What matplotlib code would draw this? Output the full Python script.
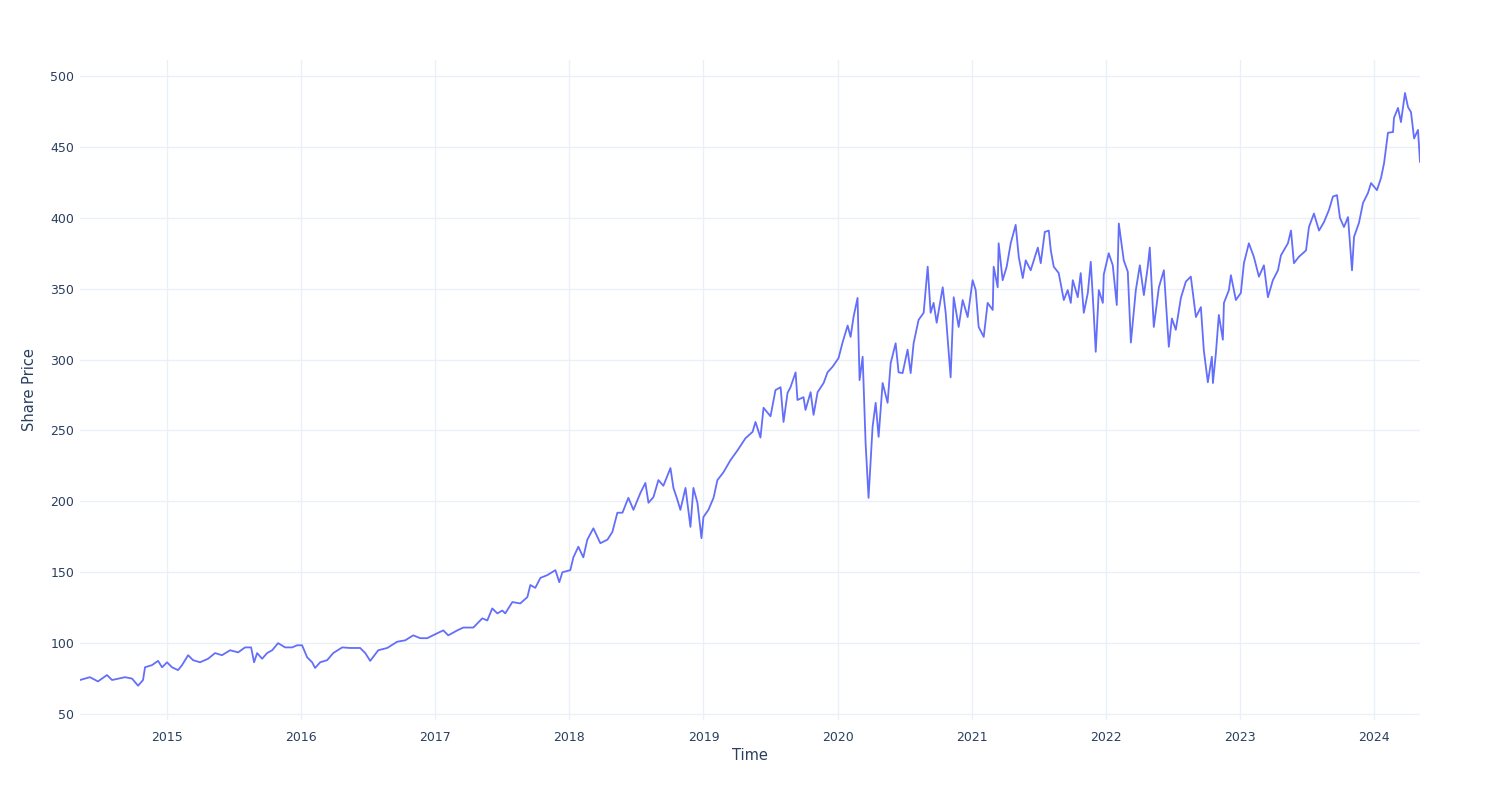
import matplotlib
matplotlib.use("Agg")
import matplotlib.pyplot as plt

# Time as decimal years
time_years = [
    2014.351, 2014.425, 2014.485, 2014.552, 2014.590, 2014.687, 2014.739, 2014.784,
    2014.821, 2014.836, 2014.888, 2014.933, 2014.963, 2015.000, 2015.037, 2015.082,
    2015.112, 2015.157, 2015.194, 2015.246, 2015.306, 2015.358, 2015.410, 2015.470,
    2015.530, 2015.582, 2015.627, 2015.649, 2015.672, 2015.709, 2015.746, 2015.784,
    2015.828, 2015.881, 2015.933, 2015.970, 2016.007, 2016.045, 2016.082, 2016.104,
    2016.142, 2016.194, 2016.239, 2016.306, 2016.366, 2016.440, 2016.478, 2016.515,
    2016.575, 2016.642, 2016.716, 2016.776, 2016.836, 2016.888, 2016.940, 2017.015,
    2017.060, 2017.097, 2017.164, 2017.209, 2017.284, 2017.351, 2017.388, 2017.425,
    2017.463, 2017.500, 2017.522, 2017.575, 2017.634, 2017.687, 2017.709, 2017.746,
    2017.784, 2017.836, 2017.896, 2017.925, 2017.948, 2018.007, 2018.030, 2018.067,
    2018.104, 2018.134, 2018.179, 2018.231, 2018.284, 2018.321, 2018.358, 2018.396,
    2018.440, 2018.478, 2018.530, 2018.567, 2018.590, 2018.627, 2018.664, 2018.701,
    2018.754, 2018.776, 2018.806, 2018.828, 2018.866, 2018.903, 2018.925, 2018.955,
    2018.985, 2019.000, 2019.037, 2019.075, 2019.104, 2019.149, 2019.201, 2019.254,
    2019.313, 2019.366, 2019.388, 2019.425, 2019.448, 2019.500, 2019.537, 2019.575,
    2019.597, 2019.627, 2019.649, 2019.687, 2019.701, 2019.746, 2019.761, 2019.799,
    2019.821, 2019.851, 2019.896, 2019.925, 2019.963, 2020.007, 2020.037, 2020.075,
    2020.097, 2020.119, 2020.149, 2020.164, 2020.187, 2020.209, 2020.231, 2020.261,
    2020.284, 2020.306, 2020.336, 2020.373, 2020.396, 2020.433, 2020.455, 2020.485,
    2020.522, 2020.545, 2020.567, 2020.604, 2020.642, 2020.672, 2020.694, 2020.716,
    2020.739, 2020.784, 2020.806, 2020.843, 2020.866, 2020.903, 2020.933, 2020.970,
    2021.007, 2021.030, 2021.052, 2021.090, 2021.119, 2021.157, 2021.164, 2021.194,
    2021.201, 2021.231, 2021.261, 2021.291, 2021.328, 2021.351, 2021.381, 2021.403,
    2021.440, 2021.493, 2021.515, 2021.545, 2021.575, 2021.590, 2021.612, 2021.649,
    2021.687, 2021.716, 2021.739, 2021.754, 2021.791, 2021.813, 2021.836, 2021.866,
    2021.888, 2021.910, 2021.925, 2021.948, 2021.978, 2021.985, 2022.022, 2022.052,
    2022.082, 2022.097, 2022.134, 2022.164, 2022.187, 2022.224, 2022.254, 2022.284,
    2022.313, 2022.328, 2022.358, 2022.396, 2022.433, 2022.470, 2022.493, 2022.522,
    2022.560, 2022.597, 2022.634, 2022.672, 2022.709, 2022.731, 2022.761, 2022.791,
    2022.799, 2022.821, 2022.843, 2022.873, 2022.881, 2022.918, 2022.933, 2022.970,
    2023.007, 2023.030, 2023.067, 2023.104, 2023.142, 2023.179, 2023.209, 2023.246,
    2023.284, 2023.306, 2023.358, 2023.381, 2023.403, 2023.440, 2023.493, 2023.515,
    2023.552, 2023.590, 2023.627, 2023.664, 2023.694, 2023.724, 2023.746, 2023.776,
    2023.806, 2023.836, 2023.851, 2023.888, 2023.918, 2023.955, 2023.978, 2024.022,
    2024.052, 2024.075, 2024.104, 2024.142, 2024.149, 2024.179, 2024.201, 2024.231,
    2024.254, 2024.276, 2024.299, 2024.328, 2024.343,
]

share_price = [
    74.0, 76.0, 73.0, 77.5, 74.0, 76.0, 75.0, 70.0,
    74.0, 83.0, 84.5, 87.5, 83.0, 86.5, 83.0, 81.0,
    84.5, 91.5, 88.0, 86.5, 89.0, 93.0, 91.5, 95.0,
    93.5, 97.0, 97.0, 86.5, 93.0, 89.0, 93.0, 95.0,
    100.0, 97.0, 97.0, 98.5, 98.5, 90.0, 86.5, 82.5,
    86.5, 88.0, 93.0, 97.0, 96.6, 96.6, 93.0, 87.5,
    95.0, 96.6, 101.0, 102.0, 105.5, 103.5, 103.5, 107.0,
    109.0, 105.5, 109.0, 111.0, 111.0, 117.5, 116.0, 124.5,
    121.0, 123.0, 121.0, 129.0, 128.0, 132.5, 141.0, 139.0,
    146.0, 148.0, 151.5, 143.0, 150.0, 151.5, 160.5, 168.0,
    160.5, 173.0, 181.0, 170.5, 173.0, 178.5, 192.0, 192.0,
    202.5, 194.0, 206.0, 213.0, 199.0, 203.0, 215.0, 211.0,
    223.5, 209.5, 201.0, 194.0, 209.5, 182.0, 209.5, 199.0,
    174.0, 189.0, 194.0, 202.5, 215.0, 220.5, 229.0, 236.0,
    244.5, 249.0, 256.0, 245.0, 266.0, 260.0, 278.5, 280.5,
    256.0, 276.5, 280.5, 291.0, 271.5, 273.5, 264.5, 277.0,
    261.0, 277.0, 283.5, 291.0, 295.0, 301.0, 312.0, 324.0,
    316.0, 330.0, 343.5, 285.5, 302.0, 241.0, 202.5, 252.5,
    269.5, 245.5, 283.5, 269.5, 297.5, 311.5, 291.0, 290.5,
    307.0, 290.5, 311.5, 328.0, 333.0, 365.5, 333.0, 340.0,
    326.0, 351.0, 333.0, 287.5, 344.0, 323.0, 342.0, 330.0,
    356.0, 349.0, 323.0, 316.0, 340.0, 335.0, 365.5, 351.0,
    382.0, 356.0, 365.5, 382.0, 395.0, 372.5, 357.5, 370.0,
    363.0, 379.0, 368.0, 390.0, 391.0, 377.0, 365.5, 361.0,
    342.0, 349.0, 340.0, 356.0, 344.0, 361.0, 333.0, 347.0,
    369.0, 333.0, 305.5, 349.0, 340.0, 360.0, 375.0, 366.5,
    338.5, 396.0, 370.0, 362.0, 312.0, 349.0, 366.5, 345.5,
    365.5, 379.0, 323.0, 351.0, 363.0, 309.0, 329.0, 321.0,
    343.5, 355.0, 358.5, 330.0, 337.0, 306.5, 284.0, 302.0,
    283.5, 304.5, 331.5, 314.0, 340.0, 349.0, 359.5, 342.0,
    347.0, 368.0, 382.0, 372.5, 358.5, 366.5, 344.0, 356.0,
    363.0, 373.5, 382.0, 391.0, 368.0, 372.5, 377.0, 393.5,
    403.0, 391.0, 397.0, 405.5, 415.0, 416.0, 400.0, 393.5,
    400.5, 363.0, 386.5, 396.5, 410.5, 417.5, 424.5, 419.5,
    428.0, 438.5, 460.0, 460.5, 470.5, 477.5, 467.5, 488.0,
    478.0, 474.5, 456.0, 462.0, 439.5,
]

year_ticks = [2015, 2016, 2017, 2018, 2019, 2020, 2021, 2022, 2023, 2024]
price_ticks = [50, 100, 150, 200, 250, 300, 350, 400, 450, 500]

plt.rcParams['font.family'] = ['DejaVu Sans']
text_color = '#2a3f5f'
grid_color = '#EBF0F8'

fig = plt.figure(figsize=(15, 8), dpi=100)
ax = fig.add_axes([80 / 1500, 80 / 800, 1340 / 1500, 660 / 800])

ax.plot(time_years, share_price, color='#636efa', linewidth=1.3, zorder=3)

ax.set_xlim(min(time_years), max(time_years))
ax.set_ylim(45.8, 511.3)

ax.set_xticks(year_ticks)
ax.set_xticklabels([str(y) for y in year_ticks])
ax.set_yticks(price_ticks)
ax.set_yticklabels([str(p) for p in price_ticks])

ax.grid(True, color=grid_color, linewidth=1.0, zorder=0)
ax.set_axisbelow(True)
for s in ax.spines.values():
    s.set_visible(False)
ax.tick_params(axis='both', length=0, colors=text_color, labelsize=9)
ax.tick_params(axis='x', pad=8)
ax.tick_params(axis='y', pad=4)

ax.set_xlabel('Time', color=text_color, fontsize=10.5, labelpad=3)
ax.set_ylabel('Share Price', color=text_color, fontsize=10.5, labelpad=10)

fig.savefig('out.png', dpi=100, facecolor='white')
